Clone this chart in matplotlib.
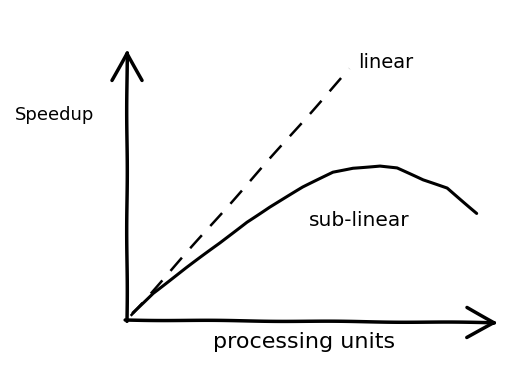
import matplotlib.pyplot as plt

# values (processing units vs speedup)
linear_x = [0.1, 6.0]
linear_y = [0.1, 6.0]
sub_x = [0.16, 0.70, 1.62, 2.51, 3.23, 3.85, 4.74, 5.55, 6.09, 6.82, 7.28, 7.98, 8.63, 9.43]
sub_y = [0.17, 0.64, 1.26, 1.84, 2.34, 2.70, 3.17, 3.53, 3.63, 3.68, 3.63, 3.34, 3.15, 2.55]

plt.rcParams['font.family'] = ['DejaVu Sans']
plt.rcParams['path.sketch'] = (0.3, 120, 1)

fig = plt.figure(figsize=(5.19, 3.65), dpi=100)
ax = fig.add_axes([127 / 519, 45 / 365, 371 / 519, 268 / 365])
ax.set_xlim(0, 10)
ax.set_ylim(0, 6.4)
ax.axis('off')

ax.plot(linear_x, linear_y, color='black', lw=1.8, dashes=(7, 5), clip_on=False)
ax.plot(sub_x, sub_y, color='black', lw=2.2, clip_on=False,
        solid_capstyle='round', solid_joinstyle='round')

arrow = dict(arrowstyle='->,head_length=1.1,head_width=0.6', lw=2.5,
             color='black', mutation_scale=18, shrinkA=0, shrinkB=0)
ax.annotate('', xy=(0, 1.01), xytext=(0, -0.005), xycoords='axes fraction',
            arrowprops=arrow)
ax.annotate('', xy=(1, -0.01), xytext=(-0.005, 0), xycoords='axes fraction',
            arrowprops=arrow)

fig.text(55 / 519, 1 - 115 / 365, 'Speedup', fontsize=13, ha='center', va='center')
fig.text(386 / 519, 1 - 62 / 365, 'linear', fontsize=14, ha='center', va='center')
fig.text(359 / 519, 1 - 220 / 365, 'sub-linear', fontsize=14.5, ha='center', va='center')
fig.text(304 / 519, 1 - 342 / 365, 'processing units', fontsize=16, ha='center', va='center')

fig.savefig('out.png', dpi=100, facecolor='white')
